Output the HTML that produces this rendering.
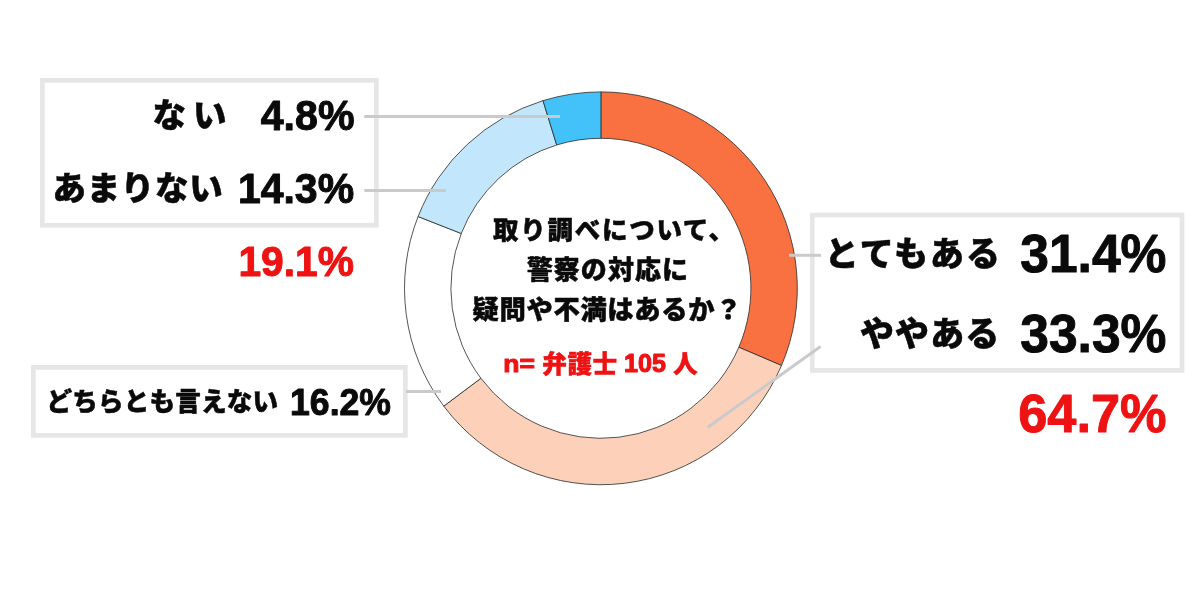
<!DOCTYPE html>
<html lang="ja">
<head>
<meta charset="utf-8">
<title>取り調べについて、警察の対応に疑問や不満はあるか？</title>
<style>
html,body{margin:0;padding:0;background:#fff;}
body{width:1200px;height:600px;overflow:hidden;position:relative;}
svg{position:absolute;left:0;top:0;display:block;}
.jp{font-family:"Liberation Sans","Noto Sans CJK JP",sans-serif;font-weight:900;fill:#0a0a0a;stroke:#0a0a0a;stroke-width:0.5px;stroke-linejoin:round;}
.num{font-family:"Liberation Sans","Noto Sans CJK JP",sans-serif;font-weight:700;fill:#0a0a0a;stroke:#0a0a0a;stroke-width:1px;stroke-linejoin:round;}
.red{fill:#ee1212;stroke:#ee1212;}
.box{fill:#fff;stroke:#e6e6e6;stroke-width:4.7;}
.ld{stroke:#cacaca;stroke-width:3;fill:none;}
</style>
</head>
<body>
<svg width="1200" height="600" viewBox="0 0 1200 600">
<rect x="0" y="0" width="1200" height="600" fill="#fff"/>
<!-- donut chart -->
<g id="donut">
<path d="M600.90 91.90A196.4 196.4 0 0 1 781.50 365.49L738.83 347.25A150.0 150.0 0 0 0 600.90 138.30Z" fill="#F97141" stroke="#2a2a2a" stroke-width="0.8" stroke-linejoin="round"/>
<path d="M781.50 365.49A196.4 196.4 0 0 1 443.75 406.11L480.88 378.27A150.0 150.0 0 0 0 738.83 347.25Z" fill="#FDD0B9" stroke="#2a2a2a" stroke-width="0.8" stroke-linejoin="round"/>
<path d="M443.75 406.11A196.4 196.4 0 0 1 418.08 216.55L461.27 233.50A150.0 150.0 0 0 0 480.88 378.27Z" fill="#FFFFFF" stroke="#2a2a2a" stroke-width="0.8" stroke-linejoin="round"/>
<path d="M418.08 216.55A196.4 196.4 0 0 1 543.01 100.63L556.69 144.96A150.0 150.0 0 0 0 461.27 233.50Z" fill="#C2E7FC" stroke="#2a2a2a" stroke-width="0.8" stroke-linejoin="round"/>
<path d="M543.01 100.63A196.4 196.4 0 0 1 600.90 91.90L600.90 138.30A150.0 150.0 0 0 0 556.69 144.96Z" fill="#43C2F9" stroke="#2a2a2a" stroke-width="0.8" stroke-linejoin="round"/>
</g>
<!-- label boxes -->
<rect class="box" x="42.35" y="80.35" width="334" height="144.9"/>
<rect class="box" x="812.3" y="215" width="369.7" height="155.4"/>
<rect class="box" x="33.35" y="367.35" width="372" height="68"/>
<!-- leader lines -->
<path class="ld" d="M364.3 116.4H560"/>
<path class="ld" d="M364.3 190.6H446"/>
<path class="ld" d="M789 255.3H821"/>
<path class="ld" d="M820.5 346.5L707.5 427.5"/>
<path class="ld" d="M406 391.5H441"/>
<!-- top-left box: negative answers -->
<text id="t1" class="jp" x="152.50" y="127.25" font-size="33.50" letter-spacing="6.88">ない</text>
<text id="n1" class="num" x="260.75" y="129.50" font-size="42.64" textLength="93.75" lengthAdjust="spacingAndGlyphs">4.8%</text>
<text id="t2" class="jp" x="52.50" y="200.25" font-size="33.50" letter-spacing="0.68">あまりない</text>
<text id="n2" class="num" x="237.90" y="202.90" font-size="42.40" textLength="116.23" lengthAdjust="spacingAndGlyphs">14.3%</text>
<text id="r1" class="num red" x="238.40" y="275.70" font-size="42.40" textLength="115.67" lengthAdjust="spacingAndGlyphs">19.1%</text>
<!-- right box: positive answers -->
<text id="t3" class="jp" x="824.75" y="266.05" font-size="34.00" letter-spacing="2.01">とてもある</text>
<text id="n3" class="num" x="1020.25" y="272.20" font-size="54.27" textLength="146.23" lengthAdjust="spacingAndGlyphs">31.4%</text>
<text id="t4" class="jp" x="859.95" y="346.35" font-size="34.00" letter-spacing="1.14">ややある</text>
<text id="n4" class="num" x="1020.25" y="352.10" font-size="54.56" textLength="146.23" lengthAdjust="spacingAndGlyphs">33.3%</text>
<text id="r2" class="num red" x="1018.30" y="432.00" font-size="54.41" textLength="148.19" lengthAdjust="spacingAndGlyphs">64.7%</text>
<!-- bottom-left box: neutral -->
<text id="t5" class="jp" x="46.50" y="411.30" font-size="25.60" letter-spacing="0.16">どちらとも言えない</text>
<text id="n5" class="num" x="290.05" y="414.95" font-size="37.00" textLength="100.93" lengthAdjust="spacingAndGlyphs">16.2%</text>
<!-- centre question -->
<text id="c1" class="jp" x="492.95" y="238.90" font-size="25.50" letter-spacing="1.74">取り調べについて<tspan x="708.40" y="239.25">、</tspan></text>
<text id="c2" class="jp" x="526.75" y="279.25" font-size="26.00" letter-spacing="1.06">警察の対応に</text>
<text id="c3" class="jp" x="472.40" y="318.90" font-size="26.30" letter-spacing="0.70">疑問や不満はあるか？</text>
<text id="c4"><tspan class="num red" x="503.35" y="371.70" font-size="23.71" textLength="31.59" lengthAdjust="spacingAndGlyphs">n=</tspan> <tspan class="jp red" x="542.20" y="372.80" font-size="24.60" letter-spacing="0.62">弁護士</tspan> <tspan class="num red" x="624.10" y="371.95" font-size="25.00" textLength="42.00" lengthAdjust="spacingAndGlyphs">105</tspan> <tspan class="jp red" x="673.05" y="372.70" font-size="24.60">人</tspan></text>
</svg>
</body>
</html>
